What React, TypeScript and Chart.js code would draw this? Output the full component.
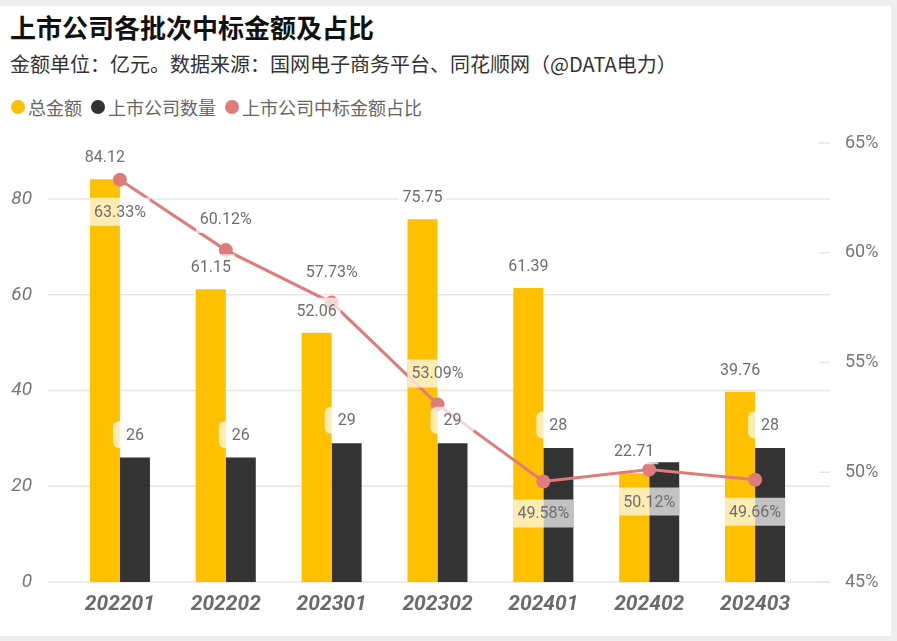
import React, { useEffect, useRef } from 'react';
import { Chart, registerables } from 'chart.js';

Chart.register(...registerables);

const categories = ['202201', '202202', '202301', '202302', '202401', '202402', '202403'];
const totalAmount = [84.12, 61.15, 52.06, 75.75, 61.39, 22.71, 39.76];
const companyCount = [26, 26, 29, 29, 28, 25, 28];
const sharePct = [63.33, 60.12, 57.73, 53.09, 49.58, 50.12, 49.66];
// where each percentage label sits relative to its point
const pctLabelSide = ['below', 'above', 'above', 'above', 'below', 'below', 'below'];

const NUM_FONT = 'Roboto, "Noto Sans", sans-serif';
const CJK_FONT = '"Noto Sans CJK SC", "Noto Sans", sans-serif';
const YELLOW = '#FFC000';
const DARK = '#333333';
const PINK = '#E07B7B';
const LABEL_COLOR = '#6e6e6e';

type Box = { x1: number; y1: number; x2: number; y2: number };

const overlaps = (a: Box, b: Box) => a.x1 < b.x2 && b.x1 < a.x2 && a.y1 < b.y2 && b.y1 < a.y2;

const gridPlugin = {
  id: 'extendedGrid',
  beforeDatasetsDraw(chart: any) {
    const { ctx, chartArea, scales } = chart;
    ctx.save();
    ctx.strokeStyle = '#e6e6e6';
    ctx.lineWidth = 1.5;
    scales.y.ticks.forEach((t: any) => {
      const py = scales.y.getPixelForValue(t.value);
      ctx.beginPath();
      ctx.moveTo(chartArea.left - 19, py);
      ctx.lineTo(chartArea.right + 22, py);
      ctx.stroke();
    });
    scales.y1.ticks.forEach((t: any) => {
      const py = scales.y1.getPixelForValue(t.value);
      ctx.beginPath();
      ctx.moveTo(chartArea.right + 11, py);
      ctx.lineTo(chartArea.right + 22, py);
      ctx.stroke();
    });
    ctx.restore();
  },
};

const labelPlugin = {
  id: 'valueLabels',
  afterDatasetsDraw(chart: any) {
    const { ctx } = chart;
    const totalMeta = chart.getDatasetMeta(1);
    const countMeta = chart.getDatasetMeta(2);
    const pctMeta = chart.getDatasetMeta(0);
    const placed: Box[] = [];

    ctx.save();
    ctx.font = `16px ${NUM_FONT}`;
    ctx.textAlign = 'center';
    ctx.textBaseline = 'middle';

    const drawLabel = (
      text: string,
      cx: number,
      cy: number,
      padX: number,
      h: number,
      radius: number,
      checkOverlap: boolean
    ) => {
      const w = ctx.measureText(text).width + padX * 2;
      const box = { x1: cx - w / 2, y1: cy - h / 2, x2: cx + w / 2, y2: cy + h / 2 };
      if (checkOverlap && placed.some((b) => overlaps(b, box))) return;
      placed.push(box);
      ctx.fillStyle = 'rgba(255,255,255,0.7)';
      ctx.beginPath();
      ctx.roundRect(box.x1, box.y1, w, h, radius);
      ctx.fill();
      ctx.fillStyle = LABEL_COLOR;
      ctx.fillText(text, cx, cy + 1);
    };

    totalAmount.forEach((v, i) => {
      const bar = totalMeta.data[i];
      drawLabel(v.toFixed(2), bar.x, bar.y - 22, 4, 26, 0, false);
    });
    sharePct.forEach((v, i) => {
      const pt = pctMeta.data[i];
      const dy = pctLabelSide[i] === 'below' ? 32 : -31;
      drawLabel(v.toFixed(2) + '%', pt.x, pt.y + dy, 4, 28, 0, false);
    });
    companyCount.forEach((v, i) => {
      const bar = countMeta.data[i];
      drawLabel(String(v), bar.x, bar.y - 23, 13, 27, 6, true);
    });
    ctx.restore();
  },
};

const LegendItem = ({ color, text }: { color: string; text: string }) => (
  <span style={{ display: 'inline-flex', alignItems: 'center', marginRight: 9 }}>
    <span
      style={{
        width: 14,
        height: 14,
        borderRadius: '50%',
        background: color,
        display: 'inline-block',
        marginRight: 3,
      }}
    />
    <span>{text}</span>
  </span>
);

const fitVertical = (width: number) => (s: any) => {
  s.width = width;
  s.paddingTop = 0;
  s.paddingBottom = 0;
};

const App = () => {
  const canvasRef = useRef<HTMLCanvasElement>(null);

  useEffect(() => {
    const canvas = canvasRef.current;
    let chart: Chart | null = null;

    if (canvas) {
      chart = new Chart(canvas, {
        type: 'bar',
        data: {
          labels: categories,
          datasets: [
            {
              type: 'line',
              label: '上市公司中标金额占比',
              data: sharePct,
              yAxisID: 'y1',
              borderColor: PINK,
              backgroundColor: PINK,
              borderWidth: 3,
              pointRadius: 7,
              pointBorderWidth: 0,
              pointBackgroundColor: PINK,
              order: 0,
            },
            {
              type: 'bar',
              label: '总金额',
              data: totalAmount,
              yAxisID: 'y',
              backgroundColor: YELLOW,
              barPercentage: 1,
              categoryPercentage: 0.567,
              order: 1,
            },
            {
              type: 'bar',
              label: '上市公司数量',
              data: companyCount,
              yAxisID: 'y',
              backgroundColor: DARK,
              barPercentage: 1,
              categoryPercentage: 0.567,
              order: 2,
            },
          ],
        } as any,
        options: {
          animation: false,
          responsive: true,
          maintainAspectRatio: false,
          layout: { padding: { top: 13, left: 0, right: 0, bottom: 0 } },
          plugins: {
            legend: { display: false },
            tooltip: { enabled: false },
          },
          scales: {
            x: {
              grid: { display: false, drawTicks: false },
              border: { display: false },
              ticks: {
                color: '#6b6b6b',
                padding: 10,
                font: { family: NUM_FONT, size: 21, weight: 'bold', style: 'italic' },
              },
              afterFit: (s: any) => {
                s.height = 54;
                s.paddingLeft = 0;
                s.paddingRight = 0;
              },
            },
            y: {
              position: 'left',
              min: 0,
              max: 91.7,
              grid: { display: false, drawTicks: false },
              border: { display: false },
              ticks: {
                stepSize: 20,
                color: '#777777',
                padding: 35,
                font: { family: NUM_FONT, size: 19, style: 'italic' },
              },
              afterBuildTicks: (s: any) => {
                s.ticks = s.ticks.filter((t: any) => t.value % 20 === 0);
              },
              afterFit: fitVertical(67),
            },
            y1: {
              position: 'right',
              min: 45,
              max: 65,
              grid: { display: false, drawTicks: false },
              border: { display: false },
              ticks: {
                stepSize: 5,
                color: '#777777',
                padding: 37,
                font: { family: NUM_FONT, size: 18 },
                callback: (v: any) => v + '%',
              },
              afterFit: fitVertical(83),
            },
          },
        } as any,
        plugins: [gridPlugin, labelPlugin],
      });
    }

    return () => {
      if (chart) {
        chart.destroy();
      }
    };
  }, []);

  return (
    <div
      style={{
        position: 'fixed',
        left: 0,
        top: 0,
        width: 897,
        height: 641,
        background: '#efefef',
        overflow: 'hidden',
      }}
    >
      <div
        style={{
          position: 'absolute',
          left: 0,
          top: 6,
          width: 891,
          height: 630,
          background: '#ffffff',
        }}
      />
      <div
        style={{
          position: 'absolute',
          left: 10,
          top: 12,
          fontFamily: CJK_FONT,
          fontSize: 26,
          lineHeight: '30px',
          fontWeight: 'bold',
          color: '#111111',
          whiteSpace: 'nowrap',
        }}
      >
        上市公司各批次中标金额及占比
      </div>
      <div
        style={{
          position: 'absolute',
          left: 10,
          top: 51,
          fontFamily: CJK_FONT,
          fontSize: 20,
          lineHeight: '26px',
          color: '#333333',
          whiteSpace: 'nowrap',
        }}
      >
        金额单位：亿元。数据来源：国网电子商务平台、同花顺网（@DATA电力）
      </div>
      <div
        style={{
          position: 'absolute',
          left: 11,
          top: 95,
          fontFamily: CJK_FONT,
          fontSize: 18,
          lineHeight: '24px',
          color: '#666666',
          whiteSpace: 'nowrap',
          display: 'flex',
          alignItems: 'center',
        }}
      >
        <LegendItem color={YELLOW} text="总金额" />
        <LegendItem color={DARK} text="上市公司数量" />
        <LegendItem color={PINK} text="上市公司中标金额占比" />
      </div>
      <div style={{ position: 'absolute', left: 0, top: 130, width: 891, height: 506 }}>
        <canvas ref={canvasRef} />
      </div>
    </div>
  );
};

export default App;
